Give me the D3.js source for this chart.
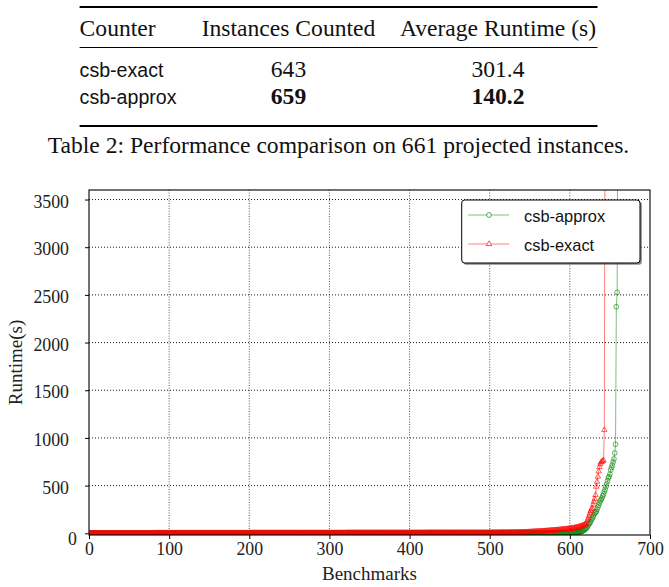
<!DOCTYPE html>
<html><head><meta charset="utf-8">
<script src="https://cdn.jsdelivr.net/npm/d3@7"></script>
<style>html,body{margin:0;padding:0;background:#fff;} svg{display:block}</style>
</head><body>
<svg id="c" width="669" height="587"></svg>
<script>
// ---------- data ----------
const tableHeaders = ["Counter", "Instances Counted", "Average Runtime (s)"];
const tableCounters = ["csb-exact", "csb-approx"];
const tableInstances = ["643", "659"];
const tableRuntimes = ["301.4", "140.2"];
const tableBold = [false, true];
const captionText = "Table 2: Performance comparison on 661 projected instances.";
const seriesNames = ["csb-approx", "csb-exact"];
const xTickValues = [0, 100, 200, 300, 400, 500, 600, 700];
const yTickValues = [0, 500, 1000, 1500, 2000, 2500, 3000, 3500];
const xLabel = "Benchmarks";
const yLabel = "Runtime(s)";

// sorted runtimes, benchmark 1..n (last value = unsolved, beyond the chart)
const exactRuntimes = [
1,1,1,1,1,1,1,1,1,1,1,1,1,1,1,1,1,1,1,1,
1,1,1,1,1,1,1,1,1,1,1,1,1,1,1,1,1,1,1,1,
1,1,1,1,1,1,1,1,1,1,1,1,1,1,1,1,1,1,1,1,
1,1,1,1,1,1,1,1,1,1,1,1,1,1,1,1,1,1,1,1,
2,2,2,2,2,2,2,2,2,2,2,2,2,2,2,2,2,2,2,2,
2,2,2,2,2,2,2,2,2,2,2,2,2,2,2,2,2,2,2,2,
2,2,2,2,2,2,2,2,2,2,2,2,2,2,2,2,2,2,2,2,
2,2,2,2,2,2,2,2,2,2,2,2,2,2,2,2,2,2,2,2,
2,2,2,2,2,2,2,2,2,2,2,2,2,2,2,2,2,2,2,2,
2,2,2,2,2,2,2,2,2,2,2,2,2,2,2,2,2,2,2,2,
3,3,3,3,3,3,3,3,3,3,3,3,3,3,3,3,3,3,3,3,
3,3,3,3,3,3,3,3,3,3,3,3,3,3,3,3,3,3,3,3,
3,3,3,3,3,3,3,3,3,3,3,3,3,3,3,3,3,3,3,3,
3,3,3,3,3,3,3,3,3,3,3,3,3,3,3,3,3,3,3,3,
3,3,3,3,3,3,3,3,3,3,3,3,3,3,3,3,3,3,3,3,
3,3,3,3,3,3,3,3,3,3,3,3,3,3,3,3,3,3,3,3,
4,4,4,4,4,4,4,4,4,4,4,4,4,4,4,4,4,4,4,4,
4,4,4,4,4,4,4,4,4,4,4,4,4,4,4,4,4,4,4,4,
4,4,4,4,4,4,4,4,4,4,4,4,4,4,4,4,4,4,4,4,
4,4,4,4,4,4,4,4,4,4,4,4,4,4,4,4,4,4,4,4,
4,4,4,4,4,4,4,4,4,4,4,4,4,4,4,4,4,4,4,4,
5,5,5,5,5,5,5,5,5,5,5,5,5,5,5,5,5,5,5,5,
5,5,5,5,5,5,5,5,5,5,5,5,5,5,5,5,5,5,5,5,
5,5,5,5,5,5,5,5,5,5,5,5,5,5,5,5,5,5,5,5,
5,5,5,5,5,5,5,5,5,5,5,5,5,5,5,5,5,5,5,5,
6,6,6,6,6,6,6,6,6,6,7,7,7,7,7,7,7,7,7,7,
7,7,7,7,8,8,8,8,8,8,8,8,9,9,9,9,9,9,10,10,
10,10,11,11,11,12,12,12,13,13,14,14,15,15,16,16,17,17,18,18,
19,19,20,20,21,21,22,22,23,24,24,25,26,26,27,28,28,29,30,30,
31,32,32,33,34,35,35,36,37,38,39,40,41,42,43,44,45,46,47,48,
49,50,52,53,55,56,58,60,62,64,66,68,71,74,77,80,84,88,93,98,
110,135,157,185,210,235,250,262,300,331,360,402,489,541,594,650,695,725,745,751,758,765,1083,5000
];
const approxRuntimes = [
1,1,1,1,1,1,1,1,1,1,1,1,1,1,1,1,1,1,1,1,
1,1,1,1,1,1,1,1,1,1,1,1,1,1,1,1,1,1,1,1,
1,1,1,1,1,1,1,1,1,1,1,1,1,1,1,1,1,1,1,1,
1,1,1,1,1,1,1,1,1,1,1,1,1,1,1,1,1,1,1,1,
1,1,1,1,1,1,1,1,1,1,1,1,1,1,1,1,1,1,1,1,
1,1,1,1,1,1,1,1,1,1,1,1,1,1,1,1,1,1,1,1,
1,1,1,1,1,1,1,1,1,1,1,1,1,1,1,1,1,1,1,1,
1,1,1,1,1,1,1,1,1,1,1,1,1,1,1,1,1,1,1,1,
1,1,1,1,1,1,1,1,1,1,1,1,1,1,1,1,1,1,1,1,
1,1,1,1,1,1,1,1,1,1,1,1,1,1,1,1,1,1,1,1,
2,2,2,2,2,2,2,2,2,2,2,2,2,2,2,2,2,2,2,2,
2,2,2,2,2,2,2,2,2,2,2,2,2,2,2,2,2,2,2,2,
2,2,2,2,2,2,2,2,2,2,2,2,2,2,2,2,2,2,2,2,
2,2,2,2,2,2,2,2,2,2,2,2,2,2,2,2,2,2,2,2,
2,2,2,2,2,2,2,2,2,2,2,2,2,2,2,2,2,2,2,2,
2,2,2,2,2,2,2,2,2,2,2,2,2,2,2,2,2,2,2,2,
2,2,2,2,2,2,2,2,2,2,2,2,2,2,2,2,2,2,2,2,
2,2,2,2,2,2,2,2,2,2,2,2,2,2,2,2,2,2,2,2,
2,2,2,2,2,2,2,2,2,2,2,2,2,2,2,2,2,2,2,2,
2,2,2,2,2,2,2,2,2,2,2,2,2,2,2,2,2,2,2,2,
3,3,3,3,3,3,3,3,3,3,3,3,3,3,3,3,3,3,3,3,
3,3,3,3,3,3,3,3,3,3,3,3,3,3,3,3,3,3,3,3,
3,3,3,3,3,3,3,3,3,3,3,3,3,3,3,3,3,3,3,3,
3,3,3,3,3,3,3,3,3,3,3,3,3,3,3,3,3,3,3,3,
3,3,3,3,3,3,3,3,3,3,3,3,3,3,3,3,3,3,3,3,
3,3,3,3,3,3,3,3,3,3,3,3,3,3,3,3,3,3,3,3,
3,3,3,3,3,3,3,3,3,3,3,3,3,3,3,3,3,3,3,3,
4,4,4,4,4,4,4,4,4,4,4,4,4,4,4,4,4,4,4,4,
4,4,4,4,4,4,4,4,4,4,4,4,4,4,4,4,4,4,4,4,
5,5,5,5,5,5,5,5,5,5,5,6,6,6,6,6,6,6,6,6,
6,7,7,8,8,9,9,10,11,12,13,14,15,17,20,24,29,35,42,49,
56,70,85,100,108,125,142,158,174,195,210,220,227,250,275,297,320,340,355,370,
390,410,436,460,490,517,550,580,594,620,664,690,715,748,779,842,933,2376,2527,5000
];

// ---------- drawing ----------
const svg = d3.select("#c");
const SERIF = "'Liberation Serif', 'Times New Roman', serif";
const SANS = "'Liberation Sans', Arial, sans-serif";

// Table
const tbl = svg.append("g");
const ruleX0 = 79.6, ruleX1 = 597.5;
const colX = [79.6, 288.5, 498];
tbl.append("line").attr("x1", ruleX0).attr("x2", ruleX1).attr("y1", 7.1).attr("y2", 7.1)
  .attr("stroke", "#000").attr("stroke-width", 2);
tbl.append("line").attr("x1", ruleX0).attr("x2", ruleX1).attr("y1", 47.5).attr("y2", 47.5)
  .attr("stroke", "#000").attr("stroke-width", 1.2);
tbl.append("line").attr("x1", ruleX0).attr("x2", ruleX1).attr("y1", 126).attr("y2", 126)
  .attr("stroke", "#000").attr("stroke-width", 2);
tableHeaders.forEach((h, i) => {
  tbl.append("text").attr("x", colX[i]).attr("y", 35.7)
    .attr("text-anchor", i === 0 ? "start" : "middle")
    .attr("font-family", SERIF).attr("font-size", 23.6).attr("fill", "#111").text(h);
});
const rowY = [76.8, 103.6];
tableCounters.forEach((c, r) => {
  tbl.append("text").attr("x", colX[0]).attr("y", rowY[r])
    .attr("font-family", SANS).attr("font-size", 19.6).attr("fill", "#111").text(c);
  tbl.append("text").attr("x", colX[1]).attr("y", rowY[r]).attr("text-anchor", "middle")
    .attr("font-family", SERIF).attr("font-size", 23.6)
    .attr("font-weight", tableBold[r] ? "bold" : "normal").attr("fill", "#111").text(tableInstances[r]);
  tbl.append("text").attr("x", colX[2]).attr("y", rowY[r]).attr("text-anchor", "middle")
    .attr("font-family", SERIF).attr("font-size", 23.6)
    .attr("font-weight", tableBold[r] ? "bold" : "normal").attr("fill", "#111").text(tableRuntimes[r]);
});
svg.append("text").attr("x", 338.5).attr("y", 153).attr("text-anchor", "middle")
  .attr("font-family", SERIF).attr("font-size", 23.6).attr("fill", "#111").text(captionText);

// Chart
const L = 89, R = 650, T = 190, B = 535;
const x = d3.scaleLinear().domain([0, 700]).range([L, R]);
const y = d3.scaleLinear().domain([-18, 3600]).range([B, T]);

const grid = svg.append("g");
grid.selectAll("line.gx").data(xTickValues.filter(v => v > 0 && v < 700)).join("line")
  .attr("x1", d => x(d)).attr("x2", d => x(d)).attr("y1", T).attr("y2", B)
  .attr("stroke", "#444").attr("stroke-width", 0.9).attr("stroke-dasharray", "1 1.6");
grid.selectAll("line.gy").data(yTickValues.filter(v => v > 0)).join("line")
  .attr("x1", L).attr("x2", R).attr("y1", d => y(d)).attr("y2", d => y(d))
  .attr("stroke", "#000").attr("stroke-width", 0.9).attr("stroke-dasharray", "1 2");

svg.append("clipPath").attr("id", "plotclip").append("rect")
  .attr("x", L).attr("y", T).attr("width", R - L).attr("height", B - T);
const plot = svg.append("g").attr("clip-path", "url(#plotclip)");

const series = [
  { name: seriesNames[0], values: approxRuntimes, color: "#008000", mark: "circle" },
  { name: seriesNames[1], values: exactRuntimes, color: "#ff0000", mark: "triangle" }
];
const line = d3.line().x((d, i) => x(i + 1)).y(d => y(d));
const triSym = d3.symbol(d3.symbolTriangle, 13);
const circSym = d3.symbol(d3.symbolCircle, Math.PI * 2.4 * 2.4);

series.forEach(s => {
  const g = plot.append("g");
  g.append("path").attr("d", line(s.values)).attr("fill", "none")
    .attr("stroke", s.color).attr("stroke-opacity", 0.5).attr("stroke-width", 1);
  g.selectAll("path.m").data(s.values).join("path")
    .attr("class", "m")
    .attr("d", s.mark === "circle" ? circSym() : triSym())
    .attr("transform", (d, i) => `translate(${x(i + 1)},${y(d)})`)
    .attr("fill", "none").attr("stroke", s.color).attr("stroke-opacity", 0.75).attr("stroke-width", 0.8);
});

// frame
svg.append("rect").attr("x", L).attr("y", T).attr("width", R - L).attr("height", B - T)
  .attr("fill", "none").attr("stroke", "#000").attr("stroke-width", 1.1);

// axes with d3
const xAxis = d3.axisBottom(x).tickValues(xTickValues).tickSize(4).tickPadding(3).tickFormat(d3.format("d"));
const gx = svg.append("g").attr("transform", `translate(0,${B})`).call(xAxis);
gx.select(".domain").remove();
gx.selectAll("text").attr("font-family", SERIF).attr("font-size", 17.8).attr("fill", "#222");

const yAxis = d3.axisLeft(y).tickValues(yTickValues).tickSize(4).tickPadding(16).tickFormat(d3.format("d"));
const gy = svg.append("g").attr("transform", `translate(${L},0)`).call(yAxis);
gy.select(".domain").remove();
gy.selectAll("text").attr("font-family", SERIF).attr("font-size", 17.8).attr("fill", "#222")
  .attr("dy", "0.42em");
gy.selectAll(".tick").filter(d => d === 0).select("text").attr("x", -12).attr("dy", "0.62em");

svg.append("text").attr("x", (L + R) / 2).attr("y", 580).attr("text-anchor", "middle")
  .attr("font-family", SERIF).attr("font-size", 19).attr("fill", "#222").text(xLabel);
svg.append("text").attr("transform", `translate(22,${(T + B) / 2}) rotate(-90)`)
  .attr("text-anchor", "middle").attr("font-family", SERIF).attr("font-size", 19)
  .attr("fill", "#222").text(yLabel);

// legend
const lg = svg.append("g");
const lx0 = 461.7, ly0 = 200, lw = 178.3, lh = 63;
lg.append("rect").attr("x", lx0 + 1.8).attr("y", ly0 + 1.8).attr("width", lw).attr("height", lh)
  .attr("rx", 3).attr("fill", "#555").attr("opacity", 0.7);
lg.append("rect").attr("x", lx0).attr("y", ly0).attr("width", lw).attr("height", lh)
  .attr("rx", 3).attr("fill", "#fff").attr("stroke", "#000").attr("stroke-width", 1);
const legY = [215, 244];
series.forEach((s, i) => {
  lg.append("line").attr("x1", 468).attr("x2", 509).attr("y1", legY[i]).attr("y2", legY[i])
    .attr("stroke", s.color).attr("stroke-opacity", 0.5).attr("stroke-width", 1);
  lg.append("path").attr("d", s.mark === "circle" ? circSym() : triSym())
    .attr("transform", `translate(489,${legY[i]})`)
    .attr("fill", "#fff").attr("stroke", s.color).attr("stroke-opacity", 0.75).attr("stroke-width", 0.9);
  lg.append("text").attr("x", 524).attr("y", legY[i] + 6.5)
    .attr("font-family", SANS).attr("font-size", 16.4).attr("fill", "#111").text(s.name);
});
</script>
</body></html>
